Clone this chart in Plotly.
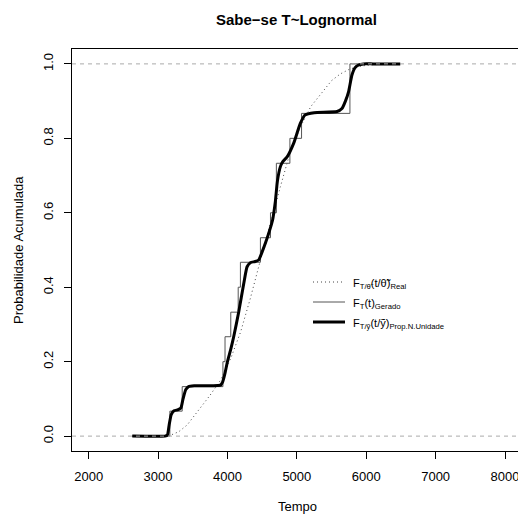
import plotly.graph_objects as go

# Empirical CDF of the generated sample (step function)
t_gerado = [2629, 3170, 3348, 3935, 3965, 4048, 4155, 4187, 4475, 4620, 4705, 4900, 5068, 5765, 6490]
F_gerado = [0.0, 0.067, 0.133, 0.2, 0.267, 0.333, 0.4, 0.467, 0.533, 0.6, 0.733, 0.8, 0.867, 1.0, 1.0]

# Theoretical lognormal CDF
t_real = [2629, 3100, 3200, 3300, 3420, 3600, 3750, 3900, 4050, 4190, 4330, 4450, 4600, 4763,
          4900, 5050, 5200, 5386, 5500, 5626, 5750, 5865, 6000, 6200, 6490]
F_real = [0.0, 0.0, 0.004, 0.012, 0.03, 0.072, 0.11, 0.15, 0.21, 0.28, 0.37, 0.455, 0.56, 0.67,
          0.76, 0.83, 0.885, 0.93, 0.955, 0.973, 0.985, 0.992, 0.996, 0.999, 1.0]

# Smoothed CDF (proposed method)
t_prop = [2629, 3100, 3135, 3160, 3190, 3230, 3290, 3330, 3360, 3400, 3440, 3520, 3700, 3860,
          3900, 3930, 3960, 4000, 4050, 4090, 4163, 4235, 4283, 4330, 4400, 4450, 4500, 4550,
          4600, 4650, 4690, 4720, 4763, 4800, 4860, 4955, 5050, 5120, 5250, 5580, 5650, 5700,
          5745, 5794, 5840, 5890, 5960, 6100, 6490]
F_prop = [0.0, 0.0, 0.003, 0.03, 0.058, 0.068, 0.071, 0.076, 0.1, 0.125, 0.133, 0.135, 0.135, 0.136,
          0.137, 0.145, 0.165, 0.2, 0.235, 0.267, 0.334, 0.41, 0.455, 0.466, 0.469, 0.473, 0.495, 0.52,
          0.548, 0.58, 0.63, 0.685, 0.724, 0.738, 0.75, 0.787, 0.84, 0.863, 0.869, 0.872, 0.88, 0.9,
          0.925, 0.97, 0.99, 0.997, 1.0, 1.0, 1.0]

ref_levels = [0, 1]
x_ticks = [2000, 3000, 4000, 5000, 6000, 7000, 8000]
y_ticks = [0.0, 0.2, 0.4, 0.6, 0.8, 1.0]
y_ticklabels = ["0.0", "0.2", "0.4", "0.6", "0.8", "1.0"]

legend_labels = [
    "F<sub>T/θ̃</sub>(t/θ̃)<sub>Real</sub>",
    "F<sub>T</sub>(t)<sub>Gerado</sub>",
    "F<sub>T/ỹ</sub>(t/ỹ)<sub>Prop.N.Unidade</sub>",
]

FONT = "Liberation Sans, Arial, Helvetica, sans-serif"

styles = [
    dict(color="#444444", width=1, dash="1px,3px"),
    dict(color="#555555", width=1),
    dict(color="black", width=3),
]

fig = go.Figure()

fig.add_trace(go.Scatter(x=t_real, y=F_real, mode="lines", line=styles[0],
                         name=legend_labels[0]))
fig.add_trace(go.Scatter(x=t_gerado, y=F_gerado, mode="lines", line_shape="hv",
                         line=styles[1], name=legend_labels[1]))
fig.add_trace(go.Scatter(x=t_prop, y=F_prop, mode="lines", line_shape="spline",
                         line=dict(styles[2], smoothing=0.5), name=legend_labels[2]))

for lv in ref_levels:
    fig.add_shape(type="line", xref="paper", x0=0, x1=1, yref="y", y0=lv, y1=lv,
                  line=dict(color="#aaaaaa", width=1, dash="4px,4px"), layer="above")

L, T, B = 72, 49, 64
W, H = 518, 515
pw, ph = W - L, H - T - B


def px_x(p):
    return (p - L) / pw


def px_y(p):
    return 1 - (p - T) / ph


# Legend block: line sample followed by its label
annotations = []
for i, (lab, st) in enumerate(zip(legend_labels, styles)):
    yrow = 282 + 20 * i
    fig.add_shape(type="line", xref="paper", yref="paper",
                  x0=px_x(313), x1=px_x(345), y0=px_y(yrow), y1=px_y(yrow), line=st)
    annotations.append(dict(text=lab, xref="paper", yref="paper", x=px_x(351), y=px_y(yrow + 2),
                            xanchor="left", yanchor="middle", showarrow=False,
                            font=dict(size=11, family=FONT)))

annotations += [
    dict(text="<b>Sabe−se T~Lognormal</b>", xref="paper", yref="paper",
         x=px_x(296), y=px_y(19.5), xanchor="center", yanchor="middle",
         showarrow=False, font=dict(size=15, family=FONT)),
    dict(text="Tempo", xref="paper", yref="paper",
         x=px_x(297), y=px_y(506), xanchor="center", yanchor="middle",
         showarrow=False, font=dict(size=13, family=FONT)),
    dict(text="Probabilidade Acumulada", xref="paper", yref="paper",
         x=px_x(18), y=0.5, xanchor="center", yanchor="middle", textangle=-90,
         showarrow=False, font=dict(size=13, family=FONT)),
]

fig.update_layout(
    width=W, height=H,
    margin=dict(l=L, r=0, t=T, b=B),
    paper_bgcolor="white", plot_bgcolor="white",
    font=dict(family=FONT, size=13, color="black"),
    showlegend=False,
    xaxis=dict(
        range=[1760, 8187], tickvals=x_ticks, ticks="outside", ticklen=7,
        tickcolor="black", showline=True, linecolor="black", linewidth=1,
        mirror=True, showgrid=False, zeroline=False, ticklabelstandoff=6,
        ticklabeloverflow="allow", tickfont=dict(size=13),
    ),
    yaxis=dict(
        range=[-0.04, 1.04], tickvals=y_ticks, ticktext=y_ticklabels, ticks="outside",
        ticklen=7, tickcolor="black", showline=True, linecolor="black", linewidth=1,
        showgrid=False, zeroline=False, tickangle=-90, ticklabelstandoff=6,
        tickfont=dict(size=13),
    ),
    annotations=annotations,
)

fig.write_html("out.html")
